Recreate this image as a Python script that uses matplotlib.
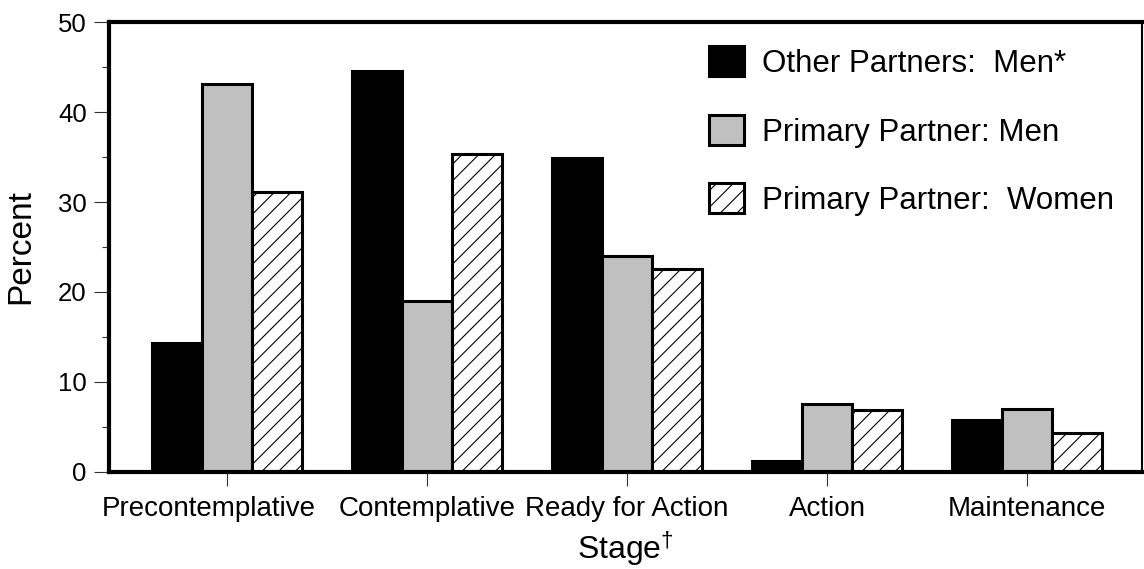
import numpy as np
import matplotlib
matplotlib.use("Agg")
import matplotlib.pyplot as plt
import matplotlib.transforms as mtransforms
from matplotlib.ticker import MultipleLocator

plt.rcParams['font.family'] = ['Liberation Sans', 'DejaVu Sans']
plt.rcParams['mathtext.fontset'] = 'custom'
plt.rcParams['mathtext.rm'] = 'Liberation Sans'
plt.rcParams['mathtext.it'] = 'Liberation Sans'
plt.rcParams['hatch.linewidth'] = 0.8

stages = ['Precontemplative', 'Contemplative', 'Ready for Action', 'Action', 'Maintenance']
other_men = [14.3, 44.6, 34.9, 1.2, 5.8]
primary_men = [43.1, 19.0, 24.0, 7.6, 7.0]
primary_women = [31.1, 35.3, 22.6, 6.9, 4.3]

fig = plt.figure(figsize=(11.44, 5.69), dpi=100)
ax = fig.add_axes([0.0953, 0.1705, 0.9030, 0.7908])

x = np.arange(len(stages))
w = 0.25
ax.bar(x - w, other_men, w, color='black', edgecolor='black', linewidth=2.2,
       label='Other Partners:  Men*', zorder=2)
ax.bar(x, primary_men, w, color='#c0c0c0', edgecolor='black', linewidth=2.2,
       label='Primary Partner: Men', zorder=2)
ax.bar(x + w, primary_women, w, color='white', edgecolor='black', linewidth=2.2,
       hatch='//', label='Primary Partner:  Women', zorder=2)

ax.set_xlim(-0.59, 4.575)
ax.set_ylim(0, 50)
ax.set_xticks(x)
ax.set_xticklabels(stages, fontsize=20)
ax.yaxis.set_major_locator(MultipleLocator(10))
ax.yaxis.set_minor_locator(MultipleLocator(5))
ax.tick_params(axis='y', which='major', length=11, width=0.8, labelsize=18.5, pad=5, color='#333333')
ax.tick_params(axis='y', which='minor', length=5, width=0.8, color='#333333')
ax.tick_params(axis='x', which='major', length=10, width=0.8, pad=7.5, color='#333333')

# first label sits a little left of its tick in the original
lbl = ax.get_xticklabels()[0]
lbl.set_transform(lbl.get_transform() + mtransforms.ScaledTranslation(-0.18, 0, fig.dpi_scale_trans))

for side in ['left', 'top', 'bottom']:
    ax.spines[side].set_linewidth(3)
ax.spines['right'].set_linewidth(1.5)
for s in ax.spines.values():
    s.set_zorder(3)

ax.set_ylabel('Percent', fontsize=24, labelpad=16)
ax.set_xlabel(r'Stage$^{\dagger}$', fontsize=23, labelpad=5)

ax.legend(loc='upper left', bbox_to_anchor=(0.581, 0.946), frameon=False,
          fontsize=22.5, handlelength=1.1, handleheight=1.1, handletextpad=0.6,
          labelspacing=1.15, borderpad=0, borderaxespad=0)

fig.savefig('out.png', dpi=100)
